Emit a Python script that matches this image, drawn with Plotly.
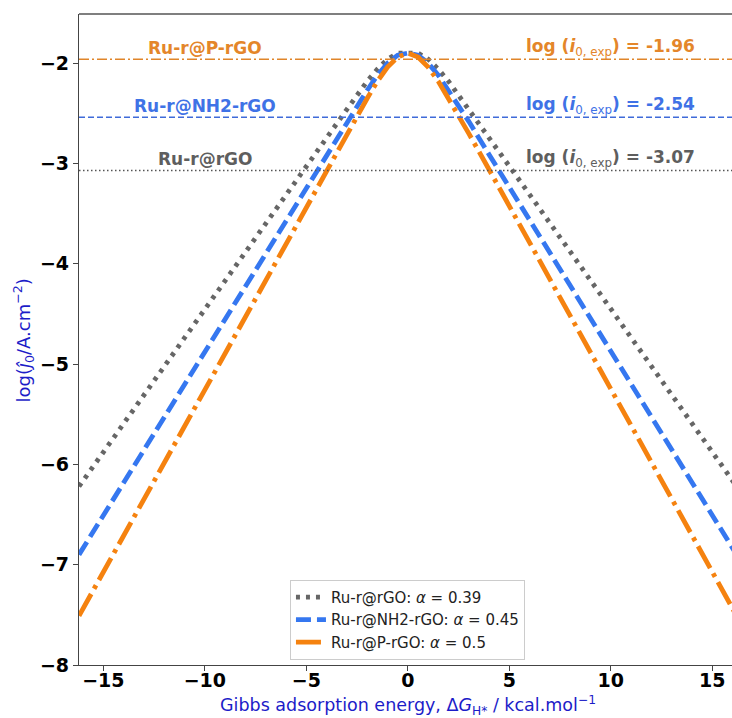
import plotly.graph_objects as go

# ---- data ----
dg = [-16.2, -14, -12, -10, -8, -6, -4, -3, -2, -1.5, -1, -0.5, 0,
      0.5, 1, 1.5, 2, 3, 4, 6, 8, 10, 12, 14, 16.2]

logj_rgo = [-6.22, -5.59, -5.02, -4.45, -3.88, -3.31, -2.74, -2.46, -2.18, -2.06, -1.96, -1.90, -1.90,
            -1.90, -1.96, -2.06, -2.18, -2.46, -2.74, -3.31, -3.88, -4.45, -5.02, -5.59, -6.22]
logj_nh2 = [-6.90, -6.18, -5.52, -4.87, -4.22, -3.56, -2.91, -2.58, -2.27, -2.12, -2.00, -1.92, -1.90,
            -1.92, -2.00, -2.12, -2.27, -2.58, -2.91, -3.56, -4.22, -4.87, -5.52, -6.18, -6.90]
logj_p = [-7.51, -6.71, -5.98, -5.25, -4.52, -3.79, -3.06, -2.70, -2.35, -2.18, -2.04, -1.94, -1.90,
          -1.94, -2.04, -2.18, -2.35, -2.70, -3.06, -3.79, -4.52, -5.25, -5.98, -6.71, -7.51]

series_names = ["Ru-r@rGO", "Ru-r@NH2-rGO", "Ru-r@P-rGO"]
alphas = ["0.39", "0.45", "0.5"]
exp_logi0 = [-3.07, -2.54, -1.96]
exp_labels = ["-3.07", "-2.54", "-1.96"]

x_ticks = [-15, -10, -5, 0, 5, 10, 15]
y_ticks = [-8, -7, -6, -5, -4, -3, -2]

x_title = "Gibbs adsorption energy, Δ<i>G</i><sub>H*</sub> / kcal.mol<sup>−1</sup>"
y_title = "log(<i>ĵ</i><sub>0</sub>/A.cm<sup>−2</sup>)"

# ---- styles ----
curve_colors = ["#666666", "#3577f0", "#f5820f"]
curve_dash = ["4px,6px", "15px,6px", "25px,6px,4px,6px"]
hline_colors = ["#555555", "#3f6bd9", "#e0852a"]
hline_dash = ["1.5px,2.5px", "6px,3px", "10px,3px,2px,3px"]
text_colors = ["#5e5e5e", "#3f72e6", "#e4862a"]
title_color = "#1c1cc8"

fig = go.Figure()

curves = [logj_rgo, logj_nh2, logj_p]
for i in range(3):
    fig.add_trace(go.Scatter(
        x=dg, y=curves[i], mode="lines",
        name=f"{series_names[i]}: <i>α</i> = {alphas[i]}",
        line=dict(color=curve_colors[i], width=4.8, dash=curve_dash[i]),
    ))

for i in range(3):
    fig.add_hline(y=exp_logi0[i], line=dict(color=hline_colors[i], width=1.5, dash=hline_dash[i]))
    fig.add_annotation(x=-10, y=exp_logi0[i] + 0.115, text=f"<b>{series_names[i]}</b>",
                       showarrow=False, font=dict(family="DejaVu Sans", size=17, color=text_colors[i]),
                       xanchor="center", yanchor="middle")
    fig.add_annotation(x=10, y=exp_logi0[i] + 0.115,
                       text=(f"<b>log (<i>i</i></b><sub>0, exp</sub><b>) = {exp_labels[i]}</b>"),
                       showarrow=False, font=dict(family="DejaVu Sans", size=17, color=text_colors[i]),
                       xanchor="center", yanchor="middle")

# axis titles as annotations for exact placement
fig.add_annotation(x=0, xref="x", y=-0.062, yref="paper", text=x_title, showarrow=False,
                   font=dict(family="DejaVu Sans", size=17.5, color=title_color),
                   xanchor="center", yanchor="middle")
fig.add_annotation(x=-0.085, xref="paper", y=-4.76, yref="y", text=y_title, showarrow=False,
                   textangle=-90, font=dict(family="DejaVu Sans", size=18, color=title_color),
                   xanchor="center", yanchor="middle")

fig.update_layout(
    width=732, height=718,
    margin=dict(l=79, r=0, t=14, b=53, autoexpand=False),
    plot_bgcolor="white", paper_bgcolor="white",
    font=dict(family="DejaVu Sans", color="black"),
    showlegend=True,
    legend=dict(x=0.503, y=0.008, xanchor="center", yanchor="bottom",
                bgcolor="white", bordercolor="#cccccc", borderwidth=1,
                font=dict(family="DejaVu Sans", size=15, color="#222222"),
                tracegroupgap=0, itemwidth=30),
)

fig.update_xaxes(
    range=[-16.2, 15.97], tickvals=x_ticks, ticktext=[("−" + str(-v)) if v < 0 else str(v) for v in x_ticks],
    showgrid=False, zeroline=False, showline=True, linecolor="#444444", linewidth=1.2,
    mirror=False, ticks="outside", ticklen=5, tickcolor="#444444", automargin=False,
    ticklabelstandoff=-7,
    tickfont=dict(family="DejaVu Sans", size=19, color="black", weight="bold"),
)
fig.update_yaxes(
    range=[-8, -1.51], tickvals=y_ticks, ticktext=["−" + str(-v) for v in y_ticks],
    showgrid=False, zeroline=False, showline=True, linecolor="#444444", linewidth=1.2,
    mirror=False, ticks="outside", ticklen=5, tickcolor="#444444", automargin=False,
    tickfont=dict(family="DejaVu Sans", size=19, color="black", weight="bold"),
)

# top spine (the right one is cut off in the reference)
fig.add_shape(type="line", xref="paper", yref="paper", x0=0, x1=1, y0=1, y1=1,
              line=dict(color="black", width=1.2))

fig.write_html("out.html", config={"displayModeBar": False},
               post_script="document.body.style.margin='0px';document.body.style.overflow='hidden';")
